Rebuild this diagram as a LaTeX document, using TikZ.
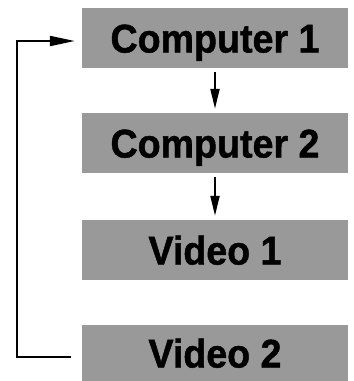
\documentclass[tikz,border=0pt]{standalone}
\usepackage{fontspec}
\setmainfont[BoldFeatures={FakeBold=1.2}]{Liberation Sans}
\usetikzlibrary{arrows.meta}
\tikzset{
  modebox/.style={fill=black!40, draw=none, minimum width=266pt, minimum height=60pt,
    inner sep=0pt, text height=29pt, text depth=0pt, text=black,
    font=\fontsize{40}{40}\selectfont\bfseries},
  flowline/.style={line width=2pt, black},
  downarrow/.style={flowline, -{Triangle[length=20pt,width=9pt]}, shorten >=4pt, shorten <=4pt},
  backarrow/.style={flowline, -{Triangle[length=25pt,width=10pt]}}
}
\newcommand{\squeeze}[1]{\scalebox{0.94}[1]{#1}}
\begin{document}
\begin{tikzpicture}[x=1pt,y=-1pt]
\useasboundingbox (0,0) rectangle (354,381);
\node[modebox] (c1) at (215,38) {\squeeze{Computer 1}};
\node[modebox] (c2) at (215,143) {\squeeze{Computer 2}};
\node[modebox] (v1) at (215,250) {\squeeze{Video 1}};
\node[modebox, minimum height=56pt] (v2) at (215,353) {\squeeze{Video 2}};
\draw[downarrow] (c1.south) -- (c2.north);
\draw[downarrow] (c2.south) -- (v1.north);
\coordinate (bl) at (17,357);
\coordinate (tl) at (17,41);
\draw[backarrow] ([shift={(-11pt,-4pt)}]v2.west) -- (bl) -- (tl) -- ([shift={(-7pt,-3pt)}]c1.west);
\end{tikzpicture}
\end{document}
